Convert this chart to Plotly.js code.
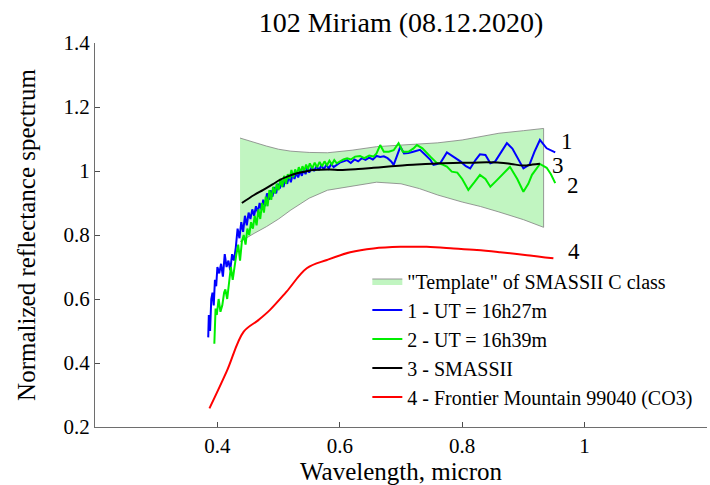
<!DOCTYPE html>
<html>
<head>
<meta charset="utf-8">
<script src="https://cdn.plot.ly/plotly-3.0.1.min.js"></script>
<style>
html,body{margin:0;padding:0;background:#fff;}
#chart{width:710px;height:485px;}
#chart svg text, #chart svg tspan{font-family:'Liberation Serif', serif !important;}
</style>
</head>
<body>
<div id="chart"></div>
<script>
// Template of SMASSII C class (upper / lower envelope)
const tplX = [0.437, 0.46, 0.48, 0.50, 0.52, 0.55, 0.58, 0.62, 0.66, 0.70, 0.73, 0.76, 0.80, 0.83, 0.86, 0.90, 0.933];
const tplUpper = [1.103, 1.089, 1.078, 1.068, 1.062, 1.058, 1.057, 1.065, 1.076, 1.081, 1.084, 1.088, 1.097, 1.108, 1.118, 1.126, 1.133];
const tplLower = [0.779, 0.805, 0.826, 0.850, 0.878, 0.915, 0.940, 0.953, 0.965, 0.960, 0.945, 0.925, 0.903, 0.889, 0.872, 0.848, 0.824];

// 1 - UT = 16h27m
const s1X = [0.385,0.386,0.388,0.390,0.392,0.394,0.396,0.398,0.400,0.403,0.406,0.409,0.412,0.415,0.418,0.421,0.424,0.427,0.430,0.433,0.436,0.439,0.442,0.445,0.448,0.451,0.454,0.457,0.460,0.463,0.466,0.469,0.472,0.475,0.478,0.481,0.484,0.487,0.490,0.493,0.496,0.499,0.502,0.505,0.508,0.511,0.514,0.517,0.520,0.523,0.526,0.529,0.532,0.535,0.538,0.541,0.544,0.547,0.550,0.554,0.558,0.562,0.566,0.570,0.574,0.578,0.582,0.586,0.590,0.595,0.600,0.606,0.612,0.618,0.624,0.630,0.636,0.642,0.648,0.654,0.660,0.666,0.672,0.678,0.684,0.688,0.694,0.699,0.705,0.712,0.720,0.731,0.740,0.748,0.753,0.764,0.775,0.786,0.797,0.806,0.813,0.822,0.829,0.838,0.846,0.854,0.862,0.873,0.882,0.889,0.900,0.910,0.918,0.927,0.938,0.952];
const s1Y = [0.48,0.55,0.50,0.60,0.62,0.58,0.66,0.64,0.70,0.68,0.71,0.67,0.74,0.70,0.72,0.69,0.74,0.72,0.76,0.82,0.79,0.84,0.81,0.86,0.83,0.87,0.85,0.88,0.86,0.89,0.87,0.90,0.88,0.91,0.89,0.93,0.91,0.94,0.92,0.95,0.93,0.96,0.945,0.97,0.95,0.975,0.96,0.985,0.965,0.99,0.975,0.995,0.98,1.0,0.985,1.005,0.99,1.01,0.995,1.012,1.0,1.015,1.003,1.018,1.005,1.02,1.008,1.022,1.012,1.02,1.026,1.03,1.034,1.025,1.036,1.03,1.04,1.035,1.042,1.036,1.047,1.044,1.046,1.04,1.03,1.019,1.05,1.076,1.055,1.056,1.06,1.066,1.05,1.035,1.019,1.024,1.058,1.045,1.03,1.015,1.008,1.035,1.052,1.05,1.024,1.03,1.055,1.087,1.07,1.045,1.008,1.02,1.06,1.097,1.071,1.058];

// 2 - UT = 16h39m
const s2X = [0.395,0.396,0.397,0.399,0.402,0.405,0.408,0.411,0.413,0.416,0.419,0.422,0.425,0.428,0.431,0.434,0.437,0.440,0.443,0.446,0.449,0.452,0.455,0.458,0.461,0.464,0.467,0.470,0.473,0.476,0.479,0.482,0.485,0.488,0.491,0.494,0.497,0.500,0.503,0.506,0.509,0.512,0.515,0.518,0.521,0.524,0.527,0.530,0.533,0.536,0.539,0.542,0.545,0.548,0.551,0.555,0.559,0.563,0.567,0.571,0.575,0.579,0.583,0.587,0.591,0.595,0.600,0.606,0.612,0.618,0.625,0.633,0.640,0.648,0.655,0.660,0.666,0.672,0.680,0.688,0.696,0.703,0.712,0.720,0.726,0.735,0.748,0.758,0.768,0.775,0.783,0.792,0.800,0.810,0.820,0.829,0.838,0.846,0.856,0.865,0.878,0.890,0.900,0.908,0.914,0.927,0.938,0.945,0.952];
const s2Y = [0.46,0.50,0.57,0.55,0.60,0.56,0.58,0.62,0.63,0.60,0.66,0.70,0.66,0.71,0.74,0.77,0.72,0.78,0.80,0.77,0.82,0.80,0.84,0.82,0.86,0.83,0.88,0.85,0.90,0.87,0.92,0.89,0.94,0.91,0.95,0.93,0.96,0.94,0.975,0.95,0.985,0.96,0.99,0.975,1.003,0.98,1.005,0.99,1.012,0.995,1.015,1.0,1.02,1.005,1.024,1.008,1.026,1.012,1.028,1.015,1.03,1.018,1.032,1.02,1.034,1.024,1.03,1.036,1.04,1.036,1.045,1.047,1.04,1.048,1.045,1.055,1.081,1.06,1.06,1.065,1.087,1.06,1.06,1.07,1.081,1.071,1.045,1.026,1.02,1.014,0.998,0.995,0.975,0.941,0.965,0.988,0.975,0.951,0.97,0.988,1.013,0.975,0.935,0.96,0.988,1.022,1.01,0.99,0.962];

// 3 - SMASSII
const s3X = [0.44,0.46,0.475,0.49,0.502,0.515,0.53,0.545,0.557,0.584,0.60,0.63,0.655,0.68,0.71,0.74,0.764,0.797,0.818,0.84,0.862,0.88,0.90,0.915,0.927];
const s3Y = [0.90,0.925,0.941,0.958,0.972,0.983,0.993,0.999,1.003,1.005,1.003,1.006,1.01,1.014,1.019,1.022,1.024,1.026,1.026,1.027,1.026,1.022,1.017,1.02,1.023];

// 4 - Frontier Mountain 99040 (CO3)
const s4X = [0.387,0.415,0.443,0.467,0.486,0.513,0.546,0.579,0.617,0.655,0.699,0.742,0.786,0.824,0.862,0.906,0.949];
const s4Y = [0.258,0.373,0.498,0.534,0.566,0.623,0.696,0.722,0.746,0.758,0.763,0.763,0.758,0.753,0.746,0.737,0.727];

const seriesNames = ['"Template" of SMASSII C class', '1 - UT = 16h27m', '2 - UT = 16h39m', '3 - SMASSII', '4 - Frontier Mountain 99040 (CO3)'];
const curveLabels = ['1', '2', '3', '4'];
const labelX = [0.971, 0.981, 0.957, 0.982];
const labelY = [1.092, 0.955, 1.018, 0.75];

const xTicks = [0.4, 0.6, 0.8, 1];
const xTickText = ['0.4', '0.6', '0.8', '1'];
const yTicks = [0.2, 0.4, 0.6, 0.8, 1, 1.2, 1.4];
const yTickText = ['0.2', '0.4', '0.6', '0.8', '1', '1.2', '1.4'];

const FONT = 'Liberation Serif';
const TXT = '#000';

const polyX = tplX.concat(tplX.slice().reverse());
const polyY = tplUpper.concat(tplLower.slice().reverse());

const traces = [
  {x: polyX, y: polyY, type: 'scatter', mode: 'lines', fill: 'toself', fillcolor: '#c1f5c1',
   line: {color: '#808080', width: 0.8}, name: seriesNames[0], hoverinfo: 'skip'},
  {x: s1X, y: s1Y, type: 'scatter', mode: 'lines', line: {color: '#0000ff', width: 2}, name: seriesNames[1]},
  {x: s2X, y: s2Y, type: 'scatter', mode: 'lines', line: {color: '#00ee00', width: 2}, name: seriesNames[2]},
  {x: s3X, y: s3Y, type: 'scatter', mode: 'lines', line: {color: '#000000', width: 2, shape: 'spline'}, name: seriesNames[3]},
  {x: s4X, y: s4Y, type: 'scatter', mode: 'lines', line: {color: '#ff0000', width: 2, shape: 'spline'}, name: seriesNames[4]}
];

const annotations = curveLabels.map((t, i) => ({
  x: labelX[i], y: labelY[i], xref: 'x', yref: 'y', text: t, showarrow: false,
  font: {family: FONT, size: 23, color: '#000'}
}));

const layout = {
  width: 710, height: 485,
  margin: {l: 95, r: 3, t: 43, b: 58},
  paper_bgcolor: '#fff', plot_bgcolor: '#fff',
  font: {family: FONT, color: TXT},
  title: {text: '102 Miriam (08.12.2020)', x: 0.5, xref: 'paper', y: 0.955, yref: 'container', yanchor: 'middle',
          font: {family: FONT, size: 28, color: '#000'}},
  xaxis: {range: [0.2, 1.2], tickvals: xTicks, ticktext: xTickText, ticks: 'inside', ticklen: 5,
          tickcolor: '#4d4d4d', showline: true, linecolor: '#6e6e6e', linewidth: 1, showgrid: false, zeroline: false,
          tickfont: {family: FONT, size: 21, color: TXT},
          title: {text: 'Wavelength, micron', font: {family: FONT, size: 25, color: TXT}}},
  yaxis: {range: [0.2, 1.4], tickvals: yTicks, ticktext: yTickText, ticks: 'inside', ticklen: 5,
          tickcolor: '#4d4d4d', showline: true, linecolor: '#6e6e6e', linewidth: 1, showgrid: false, zeroline: false,
          tickfont: {family: FONT, size: 21, color: TXT},
          title: {text: 'Normalized reflectance spectrum', font: {family: FONT, size: 25, color: TXT}}},
  legend: {x: 0.445, y: 0.431, xanchor: 'left', yanchor: 'top', bgcolor: 'rgba(255,255,255,0)',
           font: {family: FONT, size: 20, color: TXT}, tracegroupgap: 0, itemwidth: 30},
  annotations: annotations,
  showlegend: true
};

function forceSerif(gd) {
  gd.querySelectorAll('text, tspan').forEach(function (t) {
    t.setAttribute('font-family', 'Liberation Serif');
    t.style.setProperty('font-family', "'Liberation Serif', serif", 'important');
  });
}

Plotly.newPlot('chart', traces, layout, {staticPlot: true}).then(function (gd) {
  forceSerif(gd);
  if (gd.on) gd.on('plotly_afterplot', function () { forceSerif(gd); });
  setTimeout(function () { forceSerif(gd); }, 30);
});
</script>
</body>
</html>
